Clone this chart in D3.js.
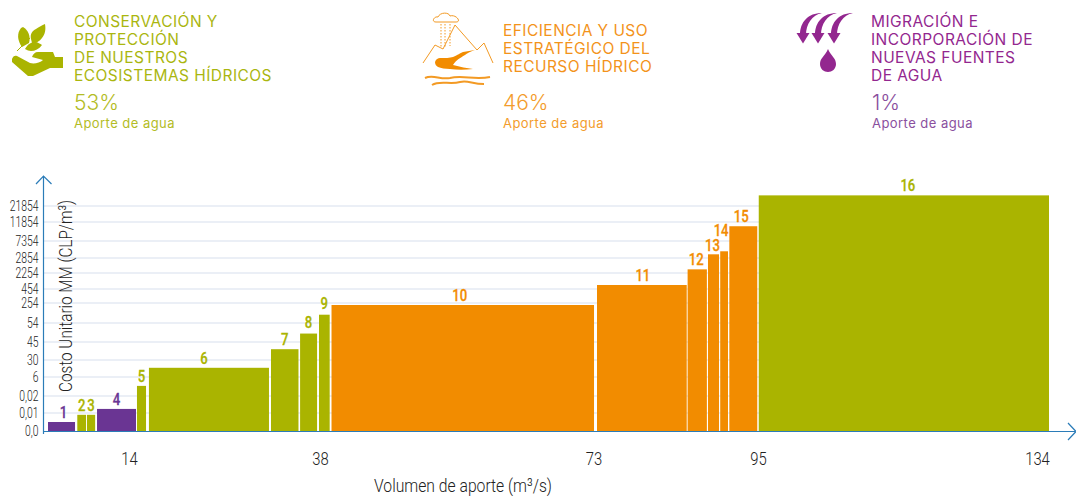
<!DOCTYPE html>
<html>
<head>
<meta charset="utf-8">
<script src="https://cdn.jsdelivr.net/npm/d3@7"></script>
<style>
    html, body { margin: 0; padding: 0; background: #fff; }
    svg { display: block; }
    text { font-family: Inter, "Open Sans", sans-serif; }
    .narrow { font-family: Roboto, sans-serif; }
</style>
</head>
<body>
<div id="chart"></div>
<script>
const bar_ids = [1, 2, 3, 4, 5, 6, 7, 8, 9, 10, 11, 12, 13, 14, 15, 16];
const bar_groups = ["m", "c", "c", "m", "c", "c", "c", "c", "c", "e", "e", "e", "e", "e", "e", "c"];
// cumulative supply (m3/s) where each block starts and ends
const bar_start = [0, 4.66, 6.2, 7.8, 14.12, 15.6, 30.7, 34.3, 36.64, 38.2, 73.27, 85.5, 88.25, 89.9, 91.13, 95.1];
const bar_end = [4.3, 6.05, 7.5, 14, 15.24, 30.45, 34.1, 36.4, 37.96, 72.87, 85.38, 88.1, 89.74, 90.95, 94.9, 134];
const bar_cost = [0.005, 0.009, 0.009, 0.0124, 3.2, 19, 39, 49, 137, 234, 904, 2400, 3830, 4630, 10850, 28500];

const x_ticks = [14, 38, 73, 95, 134];
const y_ticks = [0, 0.01, 0.02, 6, 30, 45, 54, 254, 454, 2254, 2854, 7354, 11854, 21854];
const y_tick_labels = ["0,0", "0,01", "0,02", "6", "30", "45", "54", "254", "454", "2254", "2854", "7354", "11854", "21854"];

const headers = [
    {x: 74, lines: ["CONSERVACIÓN Y", "PROTECCIÓN", "DE NUESTROS", "ECOSISTEMAS HÍDRICOS"], y0: 27, share: "53%", title: "#aab60f", sub: "#b3bc25"},
    {x: 503, lines: ["EFICIENCIA Y USO", "ESTRATÉGICO DEL", "RECURSO HÍDRICO"], y0: 36, share: "46%", title: "#f3931a", sub: "#f39c2c"},
    {x: 871, lines: ["MIGRACIÓN E", "INCORPORACIÓN DE", "NUEVAS FUENTES", "DE AGUA"], y0: 27, share: "1%", title: "#93278f", sub: "#8a4f9e"}
];

const colors = {c: "#aab400", e: "#f28c00", m: "#6a3593"};
const axis_color = "#2b7cb8";

const width = 1076, height = 496;
const svg = d3.select("#chart").append("svg")
    .attr("width", width)
    .attr("height", height);

// the source chart has uneven axes, so both scales are piecewise
const x = d3.scaleLinear()
    .domain([0, 14, 38, 73, 95, 134])
    .range([48, 136, 330, 595, 758, 1049]);
const y = d3.scaleLinear()
    .domain(y_ticks)
    .range([431, 413, 396, 377, 360, 342, 323, 303, 289, 273, 258, 241, 222, 206]);

// grid
svg.append("g").selectAll("line")
    .data(y_ticks.slice(1))
    .join("line")
    .attr("x1", 44)
    .attr("x2", 1049)
    .attr("y1", function (d) { return y(d); })
    .attr("y2", function (d) { return y(d); })
    .attr("stroke", "#d8e0ee")
    .attr("stroke-width", 1.2);

// bars
svg.append("g").selectAll("rect")
    .data(bar_ids)
    .join("rect")
    .attr("x", function (d, i) { return x(bar_start[i]); })
    .attr("width", function (d, i) { return x(bar_end[i]) - x(bar_start[i]); })
    .attr("y", function (d, i) { return y(bar_cost[i]); })
    .attr("height", function (d, i) { return y(0) - y(bar_cost[i]); })
    .attr("fill", function (d, i) { return colors[bar_groups[i]]; });

// bar numbers, a few are moved by hand like in the original
const label_nudge = {
    1: [2, 0], 6: [-5, 0], 8: [0, -2], 9: [0, -2], 10: [-3, 0], 11: [1, 0],
    12: [-1, 0], 13: [-1, 1], 14: [-3, -11], 15: [-2, 0], 16: [4, 0]
};
svg.append("g").selectAll("text")
    .data(bar_ids)
    .join("text")
    .attr("class", "narrow")
    .attr("transform", function (d, i) {
        const n = label_nudge[d] || [0, 0];
        const lx = (x(bar_start[i]) + x(bar_end[i])) / 2 + n[0];
        const ly = y(bar_cost[i]) - 4 + n[1];
        return "translate(" + lx + "," + ly + ") scale(0.82,1)";
    })
    .attr("text-anchor", "middle")
    .attr("font-size", 16)
    .attr("font-weight", 500)
    .attr("stroke-width", 0.3)
    .attr("stroke", function (d, i) { return colors[bar_groups[i]]; })
    .attr("fill", function (d, i) { return colors[bar_groups[i]]; })
    .text(function (d) { return d; });

// y axis, labels are squeezed since no condensed font is around
const y_axis = svg.append("g")
    .attr("transform", "translate(38.5,0)")
    .call(d3.axisLeft(y)
        .tickValues(y_ticks)
        .tickSize(0)
        .tickPadding(0)
        .tickFormat(function (d, i) { return y_tick_labels[i]; }));
y_axis.select(".domain").remove();
y_axis.selectAll("text")
    .attr("class", "narrow")
    .attr("font-size", 14)
    .attr("font-weight", 300)
    .attr("fill", "#222")
    .attr("transform", "scale(0.74,1)");

// x axis
const x_nudge = {14: -7, 38: -10, 73: -1.5, 95: 0, 134: -12};
const x_axis = svg.append("g")
    .attr("transform", "translate(0,431.5)")
    .call(d3.axisBottom(x)
        .tickValues(x_ticks)
        .tickSize(0)
        .tickPadding(20)
        .tickFormat(d3.format("d")));
x_axis.select(".domain").remove();
x_axis.selectAll("text")
    .attr("class", "narrow")
    .attr("font-size", 18.5)
    .attr("font-weight", 300)
    .attr("fill", "#222")
    .attr("transform", function (d) { return "translate(" + x_nudge[d] + ",0) scale(0.8,1)"; });

// axis lines with open arrows
svg.append("path")
    .attr("d", "M43.5,434V176M36,184L43.5,176L51.5,184M43,431.5H1075M1068,423L1076,431.5L1068,440")
    .attr("fill", "none")
    .attr("stroke", axis_color)
    .attr("stroke-width", 1.2);

svg.append("text")
    .attr("class", "narrow")
    .attr("transform", "translate(72,392) rotate(-90)")
    .attr("font-size", 19)
    .attr("font-weight", 300)
    .attr("fill", "#222")
    .attr("textLength", 192)
    .attr("lengthAdjust", "spacingAndGlyphs")
    .text("Costo Unitario MM (CLP/m³)");

svg.append("text")
    .attr("class", "narrow")
    .attr("x", 374)
    .attr("y", 492)
    .attr("font-size", 19)
    .attr("font-weight", 300)
    .attr("fill", "#222")
    .attr("textLength", 178)
    .attr("lengthAdjust", "spacingAndGlyphs")
    .text("Volumen de aporte (m³/s)");

// headers
headers.forEach(function (h) {
    const g = svg.append("g");
    h.lines.forEach(function (line, i) {
        g.append("text")
            .attr("x", h.x)
            .attr("y", h.y0 + i * 18)
            .attr("font-size", 15.5)
            .attr("letter-spacing", 0.45)
            .attr("fill", h.title)
            .text(line);
    });
    g.append("text")
        .attr("x", h.x + (h.share === "1%" ? 1 : 0))
        .attr("y", 110.3)
        .attr("font-size", 21)
        .attr("font-weight", 300)
        .attr("fill", h.sub)
        .text(h.share);
    g.append("text")
        .attr("x", h.x + (h.share === "1%" ? 1 : 0))
        .attr("y", 128)
        .attr("font-size", 13)
        .attr("letter-spacing", 0.45)
        .attr("fill", h.sub)
        .text("Aporte de agua");
});

// icons
const leaf = svg.append("g").attr("fill", "#aab400");
leaf.append("path").attr("d", "M22,47C17,40 17,33 21,28L23,27C28,30 31,36 29,43Z");
leaf.append("path").attr("d", "M31,39C30,34 32,31 36,29C39,27 42,25 45,24C46,30 45,34 42,38C39,42 35,44 32,43Z");
leaf.append("path").attr("d", "M25,49C28,44 31,42 35,42C38,42 40,44 42,45C39,49 35,51 31,51C29,51 27,50 25,49Z");
leaf.append("path").attr("d", "M17,51L30,38").attr("stroke", "#aab400").attr("stroke-width", 1);
leaf.append("path").attr("d", "M12,59C13,56 15,55 17,56L30,63C34,64 40,63 43,60L32,57C33,54 35,52 38,52H53L55,57H63V68H50L33,76H28L12,62Z");

const river = svg.append("g").attr("fill", "none").attr("stroke", "#f39a24").attr("stroke-width", 1);
river.append("path").attr("d", "M423,63L435,45L443,49L455,25L477,50L484,43L493,63");
river.append("path").attr("d", "M436,22C431,22 434,16 438,17C440,12 449,12 450,16C456,14 462,22 456,22Z");
river.append("path").attr("stroke-dasharray", "1.5,1.5").attr("d", "M441,24V47M445,24V48M450,24V46");
river.append("path").attr("fill", "#f28c00").attr("stroke", "none")
    .attr("d", "M435,62C436,59 438,58 440,58C445,58 450,58 453,57C458,55 460,53 463,52C467,51 471,51 475,50C470,52 467,53 465,55C460,58 456,60 453,65C460,67 467,68 473,69C465,70 457,70 450,69C445,69 441,68 438,67C436,66 435,64 435,62Z");
river.append("path").attr("stroke-width", 2).attr("d", "M425,78C433,74 440,80 450,78C462,75 475,80 490,77");
river.append("path").attr("stroke-width", 2).attr("d", "M432,85C440,80 450,85 460,82C468,80 472,84 484,84");

const rain = svg.append("g").attr("fill", "#93278f");
[[803, 822], [818, 837], [834, 853]].forEach(function (a) {
    rain.append("path")
        .attr("d", "M" + a[1] + ",13C" + (a[1] - 14) + ",13 " + (a[0] - 3) + ",22 " + (a[0] - 3) + ",35H" + (a[0] + 3) + "C" + (a[0] + 3) + ",24 " + (a[1] - 10) + ",15 " + a[1] + ",13Z");
    rain.append("path")
        .attr("d", "M" + (a[0] - 6.5) + ",33H" + (a[0] + 6.5) + "L" + a[0] + ",43.5Z");
});
rain.append("path")
    .attr("d", "M828,49C831,56 836,58 836,64C836,69 832,72 828,72C824,72 820,69 820,64C820,58 825,56 828,49Z");
</script>
</body>
</html>
